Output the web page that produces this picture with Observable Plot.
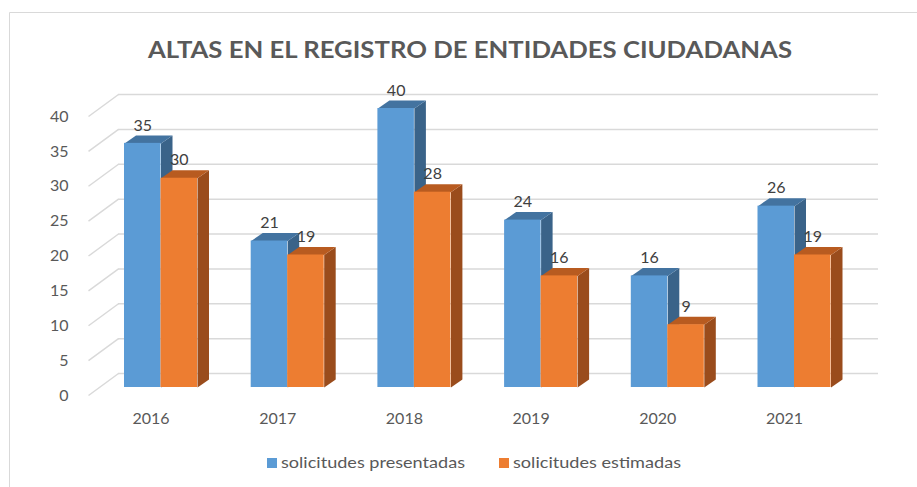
<!DOCTYPE html>
<html>
<head>
<meta charset="utf-8">
<script src="https://cdn.jsdelivr.net/npm/d3@7"></script>
<script src="https://cdn.jsdelivr.net/npm/@observablehq/plot@0.6"></script>
<style>
  html, body { margin: 0; padding: 0; background: #fff; }
  #chart { position: relative; width: 917px; height: 487px; overflow: hidden; }
  #chart svg { position: absolute; left: 0; top: 0; }
</style>
</head>
<body>
<div id="chart"></div>
<script>
// ---- data ----
const title = "ALTAS EN EL REGISTRO DE ENTIDADES CIUDADANAS";
const years = ["2016", "2017", "2018", "2019", "2020", "2021"];
const presentadas = [35, 21, 40, 24, 16, 26];
const estimadas = [30, 19, 28, 16, 9, 19];
const seriesNames = ["solicitudes presentadas", "solicitudes estimadas"];
const yTicks = [0, 5, 10, 15, 20, 25, 30, 35, 40];

// ---- styling / layout ----
const W = 917, H = 487;
const FONT = "Lato, 'Open Sans', sans-serif";
const front = ["#5B9BD5", "#ED7D31"];
const top_ = ["#4373A0", "#B85B20"];
const side = ["#3A6389", "#9A4C1C"];
const yRange = [387, 108];            // pixel range for 0..40
const xRange = [160.5, 794];          // pixel range for category index 0..5
const pxY = (yRange[0] - yRange[1]) / 40;
const pxX = (xRange[1] - xRange[0]) / (years.length - 1);
const barW = 36.5 / pxX;              // bar width in category units
const ddx = 11.5 / pxX, ddy = 8 / pxY; // bar depth offset in data units

const bars = years.flatMap((yr, i) => [
  {i, s: 0, v: presentadas[i], x1: i - barW, x2: i},
  {i, s: 1, v: estimadas[i], x1: i, x2: i + barW}
]);
const tops = bars.flatMap((b, k) => [
  {id: k, s: b.s, x: b.x1, y: b.v},
  {id: k, s: b.s, x: b.x2, y: b.v},
  {id: k, s: b.s, x: b.x2 + ddx, y: b.v + ddy},
  {id: k, s: b.s, x: b.x1 + ddx, y: b.v + ddy}
]);
const sides = bars.flatMap((b, k) => [
  {id: k, s: b.s, x: b.x2, y: 0},
  {id: k, s: b.s, x: b.x2, y: b.v},
  {id: k, s: b.s, x: b.x2 + ddx, y: b.v + ddy},
  {id: k, s: b.s, x: b.x2 + ddx, y: ddy}
]);
const xa = (88 - xRange[0]) / pxX, xb = (118 - xRange[0]) / pxX;

const faceMarks = [];
for (const s of [0, 1]) {
  faceMarks.push(
    Plot.line(sides.filter(d => d.s === s), {x: "x", y: "y", z: "id", fill: side[s], stroke: "none"}),
    Plot.line(tops.filter(d => d.s === s), {x: "x", y: "y", z: "id", fill: top_[s], stroke: "none"}),
    Plot.rect(bars.filter(d => d.s === s), {x1: "x1", x2: "x2", y1: 0, y2: "v", fill: front[s]})
  );
}

const plot = Plot.plot({
  width: W,
  height: H,
  marginLeft: 118,
  marginRight: W - 878,
  marginTop: 80,
  marginBottom: H - 395,
  style: {fontFamily: FONT, background: "transparent"},
  x: {type: "linear", domain: [0, years.length - 1], range: xRange},
  y: {type: "linear", domain: [0, 40], range: yRange},
  marks: [
    Plot.ruleY(yTicks, {dy: -14, stroke: "#d9d9d9", strokeWidth: 1.5}),
    Plot.link(yTicks, {x1: xa, x2: xb, y1: d => d - 8 / pxY, y2: d => d + 14 / pxY, stroke: "#d9d9d9", strokeWidth: 1.5}),
    Plot.axisY(yTicks, {anchor: "left", tickSize: 0, tickPadding: 50, dy: 8, label: null, fontSize: 16, fill: "#595959"}),
    Plot.axisX(d3.range(years.length), {anchor: "bottom", tickSize: 0, tickPadding: 17, dx: -10, label: null,
      tickFormat: i => years[i], fontSize: 16, fill: "#595959"}),
    ...faceMarks,
    Plot.text(bars, {x: d => (d.x1 + d.x2) / 2, y: "v", text: d => String(d.v), dy: -18, fontSize: 16, fill: "#404040"})
  ]
});

const svg = d3.select(plot);
// chart-area border
svg.insert("path", ":first-child")
  .attr("d", `M9.5,${H} V12.5 H${W}`)
  .attr("fill", "none").attr("stroke", "#d9d9d9").attr("stroke-width", 1);
// title
svg.append("text")
  .attr("x", 470).attr("y", 58)
  .attr("text-anchor", "middle")
  .attr("font-family", FONT).attr("font-weight", "bold").attr("font-size", 22)
  .attr("textLength", 644).attr("lengthAdjust", "spacingAndGlyphs")
  .attr("fill", "#595959")
  .text(title);
// legend
const legX = [267, 499];
const legW = [184, 168];
seriesNames.forEach((name, s) => {
  svg.append("rect").attr("x", legX[s]).attr("y", 458).attr("width", 10).attr("height", 10).attr("fill", front[s]);
  svg.append("text").attr("x", legX[s] + 14).attr("y", 468)
    .attr("text-anchor", "start")
    .attr("font-family", FONT).attr("font-size", 16).attr("fill", "#595959")
    .attr("textLength", legW[s]).attr("lengthAdjust", "spacingAndGlyphs")
    .text(name);
});

document.getElementById("chart").appendChild(plot);
</script>
</body>
</html>
